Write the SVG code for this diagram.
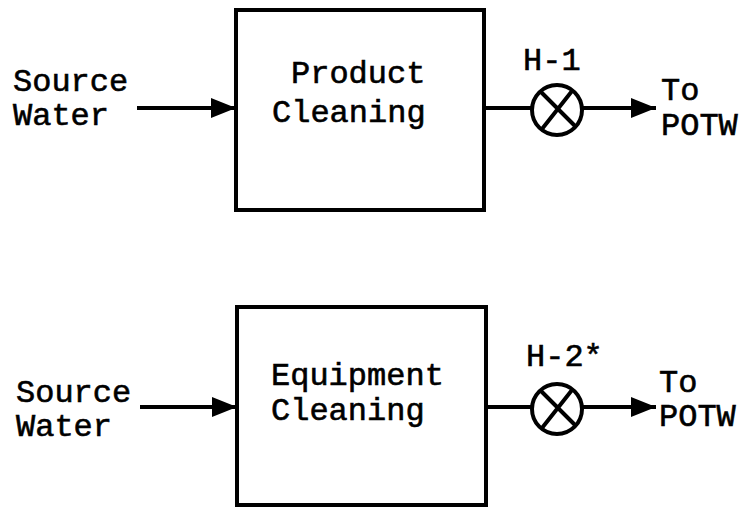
<svg xmlns="http://www.w3.org/2000/svg" width="748" height="509" viewBox="0 0 748 509">
<defs>
<marker id="ah" viewBox="0 0 25 20" refX="25" refY="10" markerWidth="25" markerHeight="20" markerUnits="userSpaceOnUse" orient="auto">
<path d="M0,0 L25,10 L0,20 Z" fill="#000"/>
</marker>
</defs>
<style>
text{font-family:"Liberation Mono","Courier New",monospace;font-size:32px;fill:#000;stroke:#000;stroke-width:0.6}
.box{fill:none;stroke:#000;stroke-width:4}
.ln{fill:none;stroke:#000;stroke-width:4}
.valve{fill:#fff;stroke:#000;stroke-width:4}
</style>
<rect width="748" height="509" fill="#fff"/>
<g id="connectors">
<line class="ln" x1="137" y1="108" x2="236" y2="108" marker-end="url(#ah)"/>
<line class="ln" x1="484" y1="108" x2="533" y2="108"/>
<line class="ln" x1="581" y1="108" x2="656" y2="108" marker-end="url(#ah)"/>
<line class="ln" x1="140" y1="407" x2="237" y2="407" marker-end="url(#ah)"/>
<line class="ln" x1="486" y1="407" x2="533" y2="407"/>
<line class="ln" x1="581" y1="407" x2="656" y2="407" marker-end="url(#ah)"/>
</g>
<g id="src1"><text x="13" y="91">Source</text><text x="13" y="125">Water</text></g>
<g id="product"><rect class="box" x="236" y="10" width="248" height="200"/><text x="291" y="83">Product</text><text x="272" y="122">Cleaning</text></g>
<g id="h1"><circle class="valve" cx="557" cy="110" r="25"/><path class="ln" d="M541,92 L575,126 M572,91 L542,129"/><text x="523" y="70">H-1</text></g>
<g id="potw1"><text x="661" y="100">To</text><text x="661" y="135">POTW</text></g>
<g id="src2"><text x="16" y="402">Source</text><text x="16" y="436">Water</text></g>
<g id="equipment"><rect class="box" x="237" y="307" width="249" height="198"/><text x="271" y="385">Equipment</text><text x="271" y="420">Cleaning</text></g>
<g id="h2"><circle class="valve" cx="557" cy="409" r="25"/><path class="ln" d="M541,391 L575,425 M572,390 L542,428"/><text x="526" y="366">H-2*</text></g>
<g id="potw2"><text x="659" y="392">To</text><text x="659" y="426">POTW</text></g>
</svg>
